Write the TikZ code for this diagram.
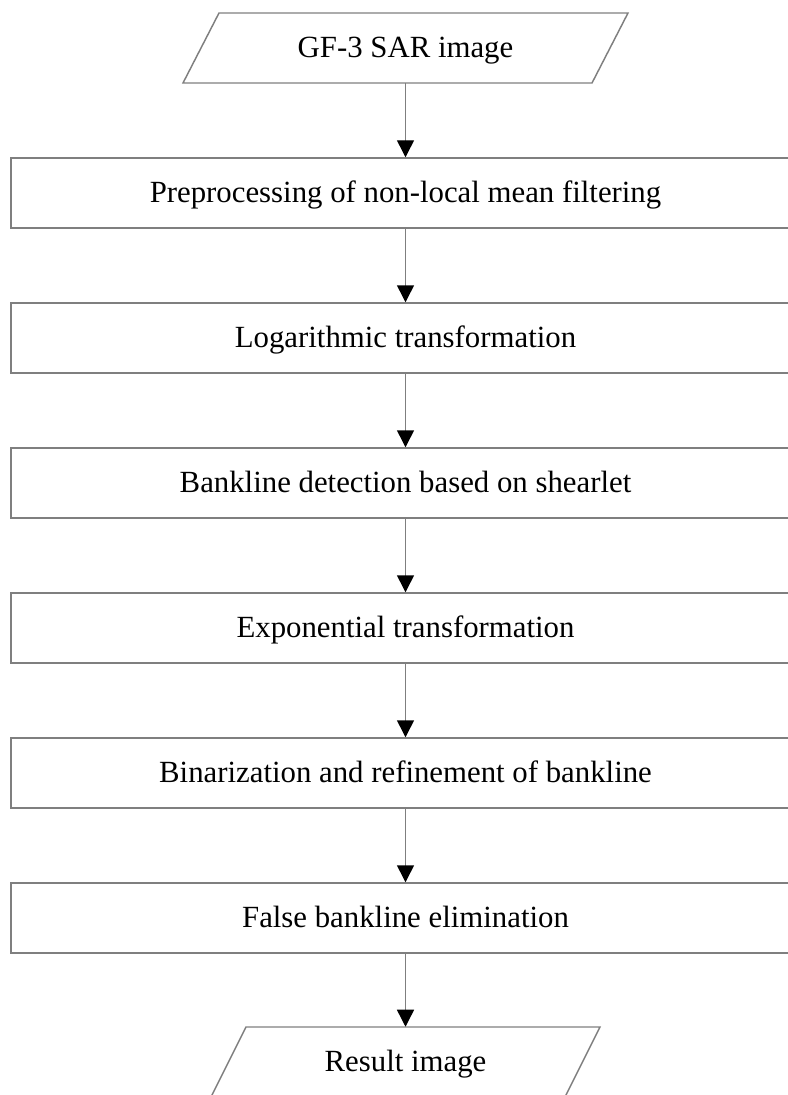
\documentclass[tikz,border=0pt]{standalone}
\usepackage{fontspec}
\setmainfont{Liberation Serif}
\usetikzlibrary{arrows.meta}
\definecolor{linegray}{HTML}{7F7F7F}
\begin{document}
\begin{tikzpicture}[x=0.75pt,y=-0.75pt,
  txt/.style={font=\fontsize{23.1}{27}\selectfont, text height=14.6pt, text depth=0pt, inner sep=0pt},
  box/.style={txt, draw=linegray, line width=1.1pt, rectangle, minimum width=591.75pt, minimum height=52.5pt},
  io/.style={txt, rectangle, minimum width=150pt, minimum height=52.5pt},
  para/.style={draw=linegray, line width=1.1pt, line join=miter},
  arr/.style={draw=linegray, line width=1.1pt, -{Triangle[width=12.75pt,length=12.75pt,color=black]}}]
\useasboundingbox (0,0) rectangle (788,1095);
\clip (0,0) rectangle (788,1095);

\node[io] (in) at (405.5,48) {GF-3 SAR image};
\draw[para] (in.center) ++(-186.5,-35) -- ++(409,0) -- ++(-36,70) -- ++(-409,0) -- cycle;

\node[box] (b1) at (405.5,193) {Preprocessing of non-local mean filtering};
\node[box] (b2) at (405.5,338) {Logarithmic transformation};
\node[box] (b3) at (405.5,483) {Bankline detection based on shearlet};
\node[box] (b4) at (405.5,628) {Exponential transformation};
\node[box] (b5) at (405.5,773) {Binarization and refinement of bankline};
\node[box] (b6) at (405.5,918) {False bankline elimination};

\node[io] (out) at (405.5,1062) {Result image};
\draw[para] (out.center) ++(-159.5,-35) -- ++(354,0) -- ++(-35,70) -- ++(-354,0) -- cycle;

\draw[arr] (in) -- (b1);
\draw[arr] (b1) -- (b2);
\draw[arr] (b2) -- (b3);
\draw[arr] (b3) -- (b4);
\draw[arr] (b4) -- (b5);
\draw[arr] (b5) -- (b6);
\draw[arr] (b6) -- (out);
\end{tikzpicture}
\end{document}
